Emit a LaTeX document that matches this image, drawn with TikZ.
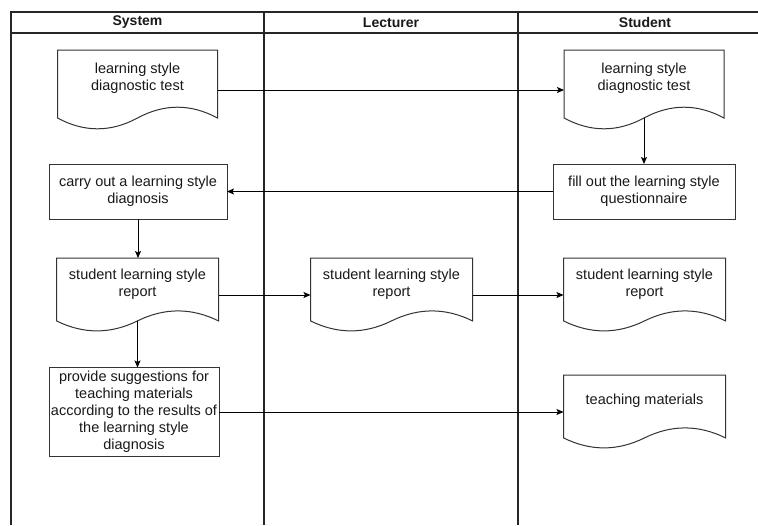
\documentclass[tikz,border=0pt]{standalone}
\usepackage{fontspec}
\setmainfont{Liberation Sans}
\usetikzlibrary{arrows.meta,calc}
\tikzset{
  lane/.style={draw=black!85, line width=1.3pt},
  txt/.style={font=\fontsize{14.5}{17}\selectfont, text=black!90},
  box/.style={txt, draw=black!80, line width=1pt, align=center, inner sep=0pt, outer sep=0pt},
  docnode/.style={draw=none, inner sep=0pt, outer sep=0pt},
  doctext/.style={txt, align=center, inner sep=0pt},
  docline/.style={draw=black!80, line width=1pt},
  flow/.style={draw=black, line width=1pt, -{Stealth[length=7pt,width=6pt,inset=1.5pt]}},
  head/.style={font=\fontsize{14}{17}\selectfont\bfseries, text=black!90}
}
\newcommand\docline[1]{%
  \draw[docline] let \p1=(#1.south west), \p2=(#1.north east), \n1={\x2-\x1}, \n2={\y2-\y1} in
    (\x1,\y2) -- (\x2,\y2) -- (\x2,\y1+0.15*\n2)
    .. controls (\x1+0.8333*\n1,\y1+0.33*\n2) and (\x1+0.6667*\n1,\y1+0.33*\n2) .. (\x1+0.5*\n1,\y1+0.15*\n2)
    .. controls (\x1+0.3333*\n1,\y1-0.03*\n2) and (\x1+0.1667*\n1,\y1-0.03*\n2) .. (\x1,\y1+0.15*\n2) -- cycle;}
\begin{document}
\begin{tikzpicture}[x=1pt,y=-1pt]
\useasboundingbox (0,0) rectangle (758,525);
\fill[white] (0,0) rectangle (758,525);
% swimlanes
\draw[lane] (11,525) -- (11,12) -- (758,12);
\draw[lane] (11,33) -- (758,33);
\draw[lane] (264,12) -- (264,525);
\draw[lane] (518,12) -- (518,525);
\node[head] (hsys) at (137.5,22.5) {System};
\node[head] (hlec) at (391,22.5) {Lecturer};
\node[head] (hstu) at (645,22.5) {Student};
% documents
\node[docnode, minimum width=160pt, minimum height=80pt, label={[doctext,yshift=12pt]center:{learning style\\diagnostic test}}] (sd1) at (137.5,90) {};
\node[docnode, minimum width=160pt, minimum height=80pt, label={[doctext,yshift=12pt]center:{learning style\\diagnostic test}}] (st1) at (644,90) {};
\node[docnode, minimum width=162pt, minimum height=74pt, label={[doctext,yshift=11pt]center:{student learning style\\report}}] (sr) at (137.5,295) {};
\node[docnode, minimum width=162pt, minimum height=74pt, label={[doctext,yshift=11pt]center:{student learning style\\report}}] (lr) at (391.5,295) {};
\node[docnode, minimum width=162pt, minimum height=74pt, label={[doctext,yshift=11pt]center:{student learning style\\report}}] (tr) at (644.5,295) {};
\node[docnode, minimum width=162pt, minimum height=74pt, label={[doctext,yshift=11pt]center:{teaching materials}}] (tm) at (644.5,412) {};
\docline{sd1}\docline{st1}\docline{sr}\docline{lr}\docline{tr}\docline{tm}
% boxes
\node[box, minimum width=182pt, minimum height=55pt] (sf) at (644,191.5) {fill out the learning style\\questionnaire};
\node[box, minimum width=178pt, minimum height=55pt] (sc) at (138,191.5) {carry out a learning style\\diagnosis};
\node[box, minimum width=170pt, minimum height=89pt] (sp) at (134,412) {provide suggestions for\\teaching materials\\according to the results of\\the learning style\\diagnosis};
% connectors
\draw[flow] (sd1.east) -- (st1.west);
\draw[flow] ([yshift=12pt]st1.south) -- (sf.north);
\draw[flow] (sf.west) -- (sc.east);
\draw[flow] (sc.south) -- (sc.south |- sr.north);
\draw[flow] (sr.east) -- (lr.west);
\draw[flow] (lr.east) -- (tr.west);
\draw[flow] ([yshift=11pt]sr.south) -- (sr.south |- sp.north);
\draw[flow] (sp.east) -- (tm.west);
\end{tikzpicture}
\end{document}
